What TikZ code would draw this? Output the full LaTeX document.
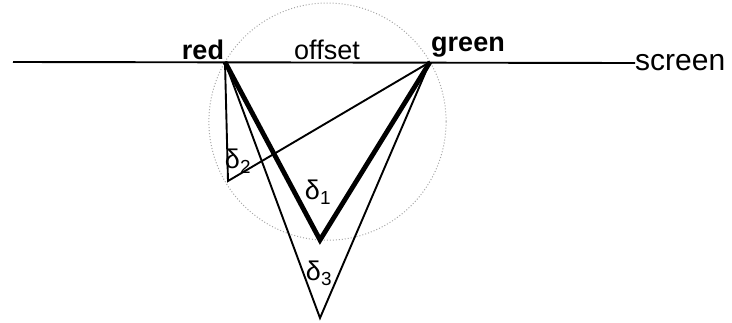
\documentclass[tikz,border=0pt]{standalone}
\usepackage{fontspec}
\setmainfont{Liberation Sans}
\begin{document}
\begin{tikzpicture}[x=1pt,y=-1pt,
  thinline/.style={line width=1.9pt,line join=miter},
  thickline/.style={line width=4.8pt,line join=miter},
  lab/.style={font=\fontsize{27}{30}\selectfont,inner sep=0pt},
  blab/.style={font=\fontsize{27}{30}\selectfont\bfseries,inner sep=0pt},
  dlab/.style={font=\fontsize{27}{29}\selectfont,inner sep=0pt}]
\useasboundingbox (0,0) rectangle (732,322);
\coordinate (L) at (13,62);
\coordinate (R) at (225,62);
\coordinate (G) at (430,62);
\coordinate (P1) at (320,240);
\coordinate (P3) at (320,318);
\coordinate (Q2) at (228,181);
\coordinate (C) at (327.5,121.6);
\node[lab,font=\fontsize{30}{32}\selectfont,anchor=west] (scr) at (635,63) {screen};
\draw[gray!70,dotted,line width=1pt] (C) circle (118.6);
\draw[thinline] (L) -- (scr.west);
\draw[thinline] (R) -- (Q2) -- (G);
\draw[thinline] (R) -- (P3) -- (G);
\draw[thickline] (R) -- (P1) -- (G);
\node[blab] (red) at (203,50) {red};
\node[blab] (green) at (468,47) {green};
\node[lab] (off) at (327,50) {offset};
\node[dlab] (d1) at (318,192) {δ\textsubscript{1}};
\node[dlab] (d2) at (238,161) {δ\textsubscript{2}};
\node[dlab] (d3) at (319,273) {δ\textsubscript{3}};
\end{tikzpicture}
\end{document}
